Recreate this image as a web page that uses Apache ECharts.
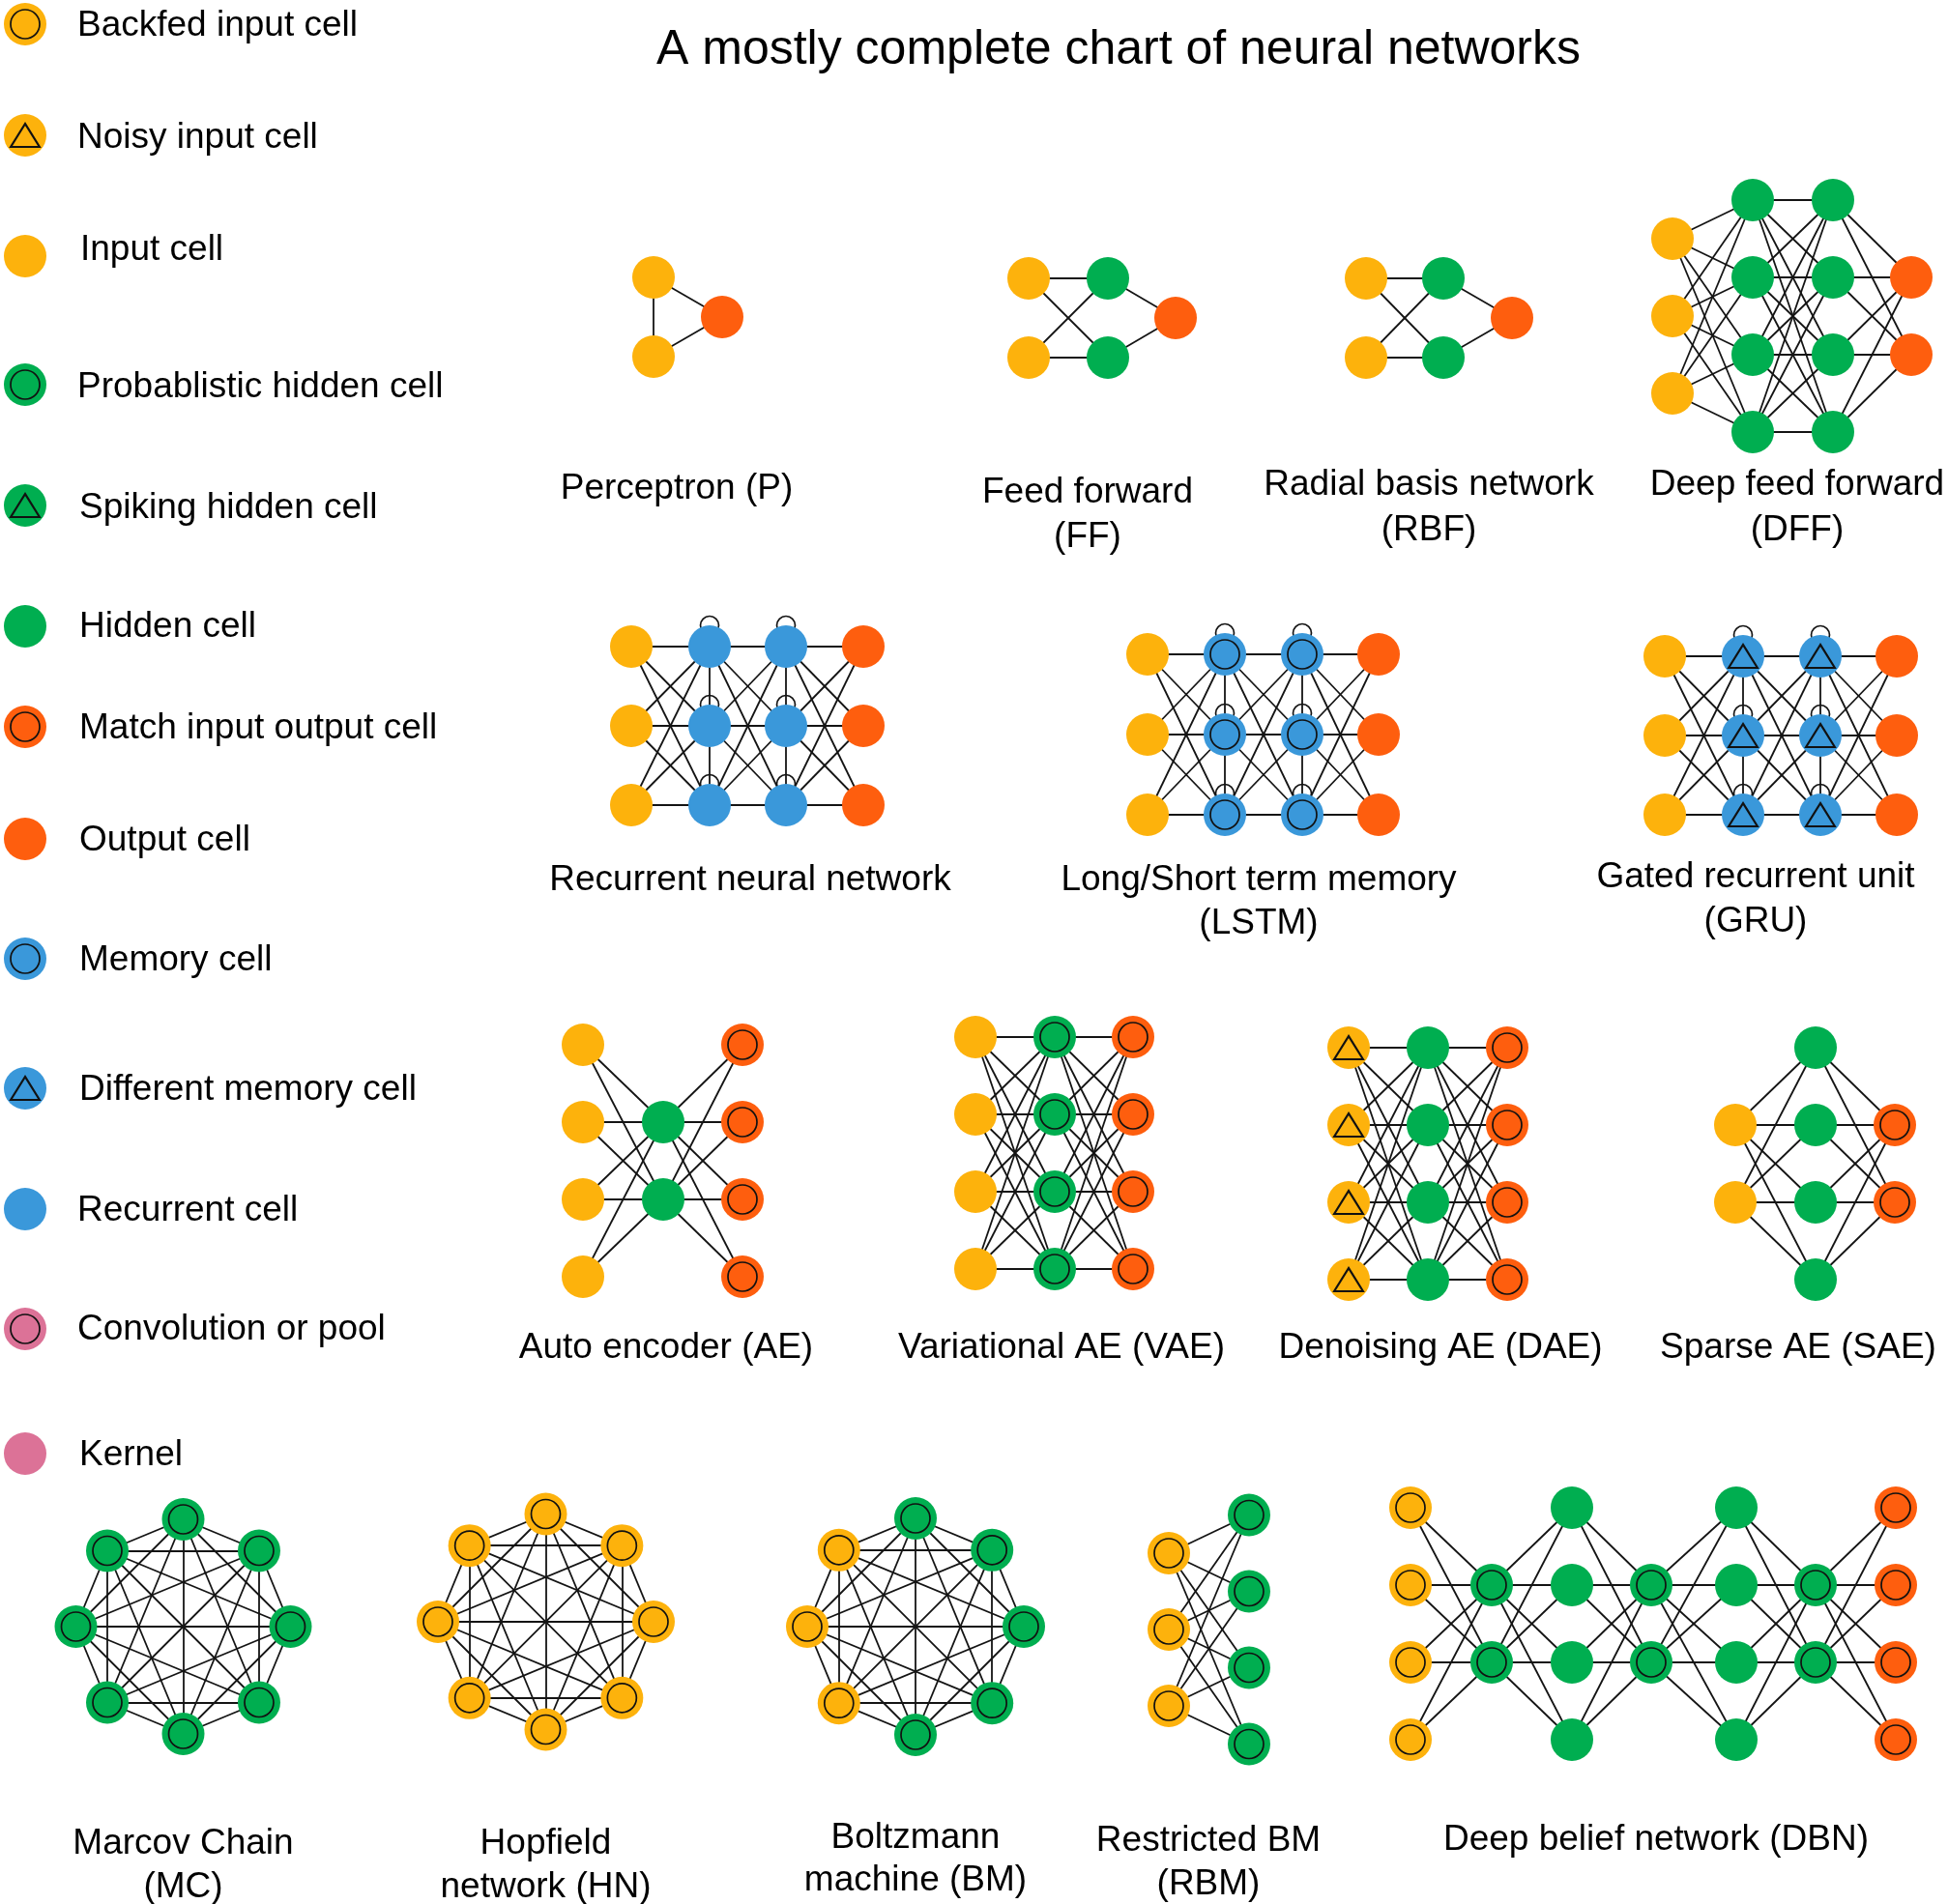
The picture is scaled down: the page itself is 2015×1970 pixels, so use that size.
<!DOCTYPE html>
<html><head><meta charset="utf-8">
<script src="https://cdn.jsdelivr.net/npm/echarts@6/dist/echarts.min.js"></script>
<style>html,body{margin:0;padding:0;background:#fff}#chart{width:2015px;height:1970px}</style>
</head><body><div id="chart"></div>
<script>
// ================= DATA =================
const chartTitle = 'A mostly complete chart of neural networks';
const cellKeys  = ['backfed','noisy','input','prob','spiking','hidden','match','output','memory','diffmem','recurrent','conv','kernel'];
const cellNames = ['Backfed input cell','Noisy input cell','Input cell','Probablistic hidden cell','Spiking hidden cell','Hidden cell','Match input output cell','Output cell','Memory cell','Different memory cell','Recurrent cell','Convolution or pool','Kernel'];

// layered networks: [cell type, number of cells] per column
const layersP    = [['input',2],['output',1]];
const layersFF   = [['input',2],['hidden',2],['output',1]];
const layersRBF  = [['input',2],['hidden',2],['output',1]];
const layersDFF  = [['input',3],['hidden',4],['hidden',4],['output',2]];
const layersRNN  = [['input',3],['recurrent',3],['recurrent',3],['output',3]];
const layersLSTM = [['input',3],['memory',3],['memory',3],['output',3]];
const layersGRU  = [['input',3],['diffmem',3],['diffmem',3],['output',3]];
const layersAE   = [['input',4],['hidden',2],['match',4]];
const layersVAE  = [['input',4],['prob',4],['match',4]];
const layersDAE  = [['noisy',4],['hidden',4],['match',4]];
const layersSAE  = [['input',2],['hidden',4],['match',2]];
const layersRBM  = [['backfed',3],['prob',4]];
const layersDBN  = [['backfed',4],['prob',2],['hidden',4],['prob',2],['hidden',4],['prob',2],['match',4]];
// fully connected rings (clockwise from top)
const ringMC = ['prob','prob','prob','prob','prob','prob','prob','prob'];
const ringHN = ['backfed','backfed','backfed','backfed','backfed','backfed','backfed','backfed'];
const ringBM = ['prob','prob','prob','prob','prob','backfed','backfed','backfed'];
// columns whose cells are linked to each other / carry self loops
const innerLinksP = [0];
const innerLinksRec = [1,2];
const selfLoopsRec = [1,2];

// network labels
const labelP    = ['Perceptron (P)'];
const labelFF   = ['Feed forward','(FF)'];
const labelRBF  = ['Radial basis network','(RBF)'];
const labelDFF  = ['Deep feed forward','(DFF)'];
const labelRNN  = ['Recurrent neural network'];
const labelLSTM = ['Long/Short term memory','(LSTM)'];
const labelGRU  = ['Gated recurrent unit','(GRU)'];
const labelAE   = ['Auto encoder (AE)'];
const labelVAE  = ['Variational AE (VAE)'];
const labelDAE  = ['Denoising AE (DAE)'];
const labelSAE  = ['Sparse AE (SAE)'];
const labelMC   = ['Marcov Chain','(MC)'];
const labelHN   = ['Hopfield','network (HN)'];
const labelBM   = ['Boltzmann','machine (BM)'];
const labelRBM  = ['Restricted BM','(RBM)'];
const labelDBN  = ['Deep belief network (DBN)'];

// ================= LAYOUT / STYLE =================
const FONT = "'Liberation Sans', Arial, Helvetica, sans-serif";
const COLORS = {backfed:'#FDB20C', noisy:'#FDB20C', input:'#FDB20C', prob:'#00AE50', spiking:'#00AE50', hidden:'#00AE50',
  match:'#FE5E0E', output:'#FE5E0E', memory:'#3A98DA', diffmem:'#3A98DA', recurrent:'#3A98DA', conv:'#DC7297', kernel:'#DC7297'};
const RING_TYPES = ['backfed','prob','match','memory','conv'];
const TRI_TYPES = ['noisy','spiking','diffmem'];
const NODE = 44, INNER = 30, LOOP = 19, EDGE = '#141414';
const TEXT_DY = 3;

const LAY = {
  P:   {cols:[676,747], cy:328, dy:82, lab:[700,503], gap:45},
  FF:  {cols:[1064,1146,1216], cy:329, dy:82, lab:[1125,507], gap:46},
  RBF: {cols:[1413,1493,1564], cy:329, dy:82, lab:[1478,499], gap:47},
  DFF: {cols:[1730,1813,1896,1977], cy:327, dy:80, lab:[1859,499], gap:47},
  RNN: {cols:[653,734,813,893], cy:751, dy:82, lab:[776,908], gap:45},
  LSTM:{cols:[1187,1267,1347,1426], cy:760, dy:83, lab:[1302,908], gap:45},
  GRU: {cols:[1722,1803,1883,1962], cy:761, dy:82, lab:[1816,905], gap:46},
  AE:  {cols:[603,686,768], cy:1201, dy:80, lab:[689,1392], gap:45},
  VAE: {cols:[1009,1091,1172], cy:1193, dy:80, lab:[1098,1392], gap:45},
  DAE: {cols:[1395,1477,1559], cy:1204, dy:80, lab:[1490,1392], gap:45},
  SAE: {cols:[1795,1878,1960], cy:1204, dy:80, lab:[1860,1392], gap:45},
  RBM: {cols:[1209,1292], cy:1686, dy:79, lab:[1250,1902], gap:45},
  DBN: {cols:[1459,1543,1626,1708,1796,1878,1961], cy:1680, dy:80, lab:[1713,1901], gap:45},
  MC:  {cx:189.5, cy:1683, r:111, lab:[189.5,1905], gap:45},
  HN:  {cx:564.5, cy:1678, r:111.5, lab:[564.5,1905], gap:45},
  BM:  {cx:947, cy:1683, r:112, lab:[947,1899], gap:44}
};
const LEGEND_X = 26;
const LEGEND_Y = [25,140,265,398,523,648,752,868,992,1126,1251,1375,1504];
const LEGEND_TEXT_X  = [80,80,83,80,82,82,82,82,82,82,80,80,82];
const LEGEND_TEXT_DY = [0,1,-8,1,1,-1,0,0,0,0,0,-1,0];

// ================= BUILD =================
const nodes = {}; cellKeys.forEach(k => nodes[k] = []);
const edges = [], loops = [];
function addLayered(layers, lay, innerCols, loopCols) {
  const cols = layers.map(([type, n], c) => {
    const pts = [];
    for (let r = 0; r < n; r++) {
      const p = [lay.cols[c], lay.cy + (r - (n - 1) / 2) * lay.dy];
      pts.push(p); nodes[type].push(p);
    }
    return pts;
  });
  for (let c = 0; c + 1 < cols.length; c++)
    for (const a of cols[c]) for (const b of cols[c + 1]) edges.push([a, b]);
  (innerCols || []).forEach(c => { for (let r = 0; r + 1 < cols[c].length; r++) edges.push([cols[c][r], cols[c][r + 1]]); });
  (loopCols || []).forEach(c => cols[c].forEach(p => loops.push(p)));
}
function addRing(types, lay) {
  const pts = types.map((t, i) => {
    const a = (-90 + 360 * i / types.length) * Math.PI / 180;
    const p = [lay.cx + lay.r * Math.cos(a), lay.cy + lay.r * Math.sin(a)];
    nodes[t].push(p); return p;
  });
  for (let i = 0; i < pts.length; i++) for (let j = i + 1; j < pts.length; j++) edges.push([pts[i], pts[j]]);
}
addLayered(layersP, LAY.P, innerLinksP);
addLayered(layersFF, LAY.FF);
addLayered(layersRBF, LAY.RBF);
addLayered(layersDFF, LAY.DFF);
addLayered(layersRNN, LAY.RNN, innerLinksRec, selfLoopsRec);
addLayered(layersLSTM, LAY.LSTM, innerLinksRec, selfLoopsRec);
addLayered(layersGRU, LAY.GRU, innerLinksRec, selfLoopsRec);
addLayered(layersAE, LAY.AE);
addLayered(layersVAE, LAY.VAE);
addLayered(layersDAE, LAY.DAE);
addLayered(layersSAE, LAY.SAE);
addLayered(layersRBM, LAY.RBM);
addLayered(layersDBN, LAY.DBN);
addRing(ringMC, LAY.MC);
addRing(ringHN, LAY.HN);
addRing(ringBM, LAY.BM);

const legendData = cellKeys.map((k, i) => ({value:[LEGEND_X, LEGEND_Y[i]], name:cellNames[i],
  itemStyle:{color:COLORS[k], opacity:1},
  label:{distance:LEGEND_TEXT_X[i] - LEGEND_X - NODE/2, offset:[0, LEGEND_TEXT_DY[i] + 1.5]}}));
const ringPts = [], triPts = [];
cellKeys.forEach((k, i) => {
  if (RING_TYPES.includes(k)) { ringPts.push(...nodes[k]); ringPts.push([LEGEND_X, LEGEND_Y[i]]); }
  if (TRI_TYPES.includes(k)) { triPts.push(...nodes[k]); triPts.push([LEGEND_X, LEGEND_Y[i]]); }
});

const series = [];
series.push({type:'lines', coordinateSystem:'cartesian2d', z:1, silent:true,
  lineStyle:{color:EDGE, width:1.8, opacity:1, curveness:0},
  data: edges.map(e => ({coords:e}))});
series.push({type:'scatter', z:2, silent:true, symbol:'circle', symbolSize:LOOP, symbolOffset:[0, -NODE/2],
  itemStyle:{color:'rgba(0,0,0,0)', borderColor:EDGE, borderWidth:1.7, opacity:1}, data:loops});
cellKeys.forEach((k, i) => {
  series.push({type:'scatter', name:cellNames[i], z:3, silent:true, symbol:'circle', symbolSize:NODE,
    itemStyle:{color:COLORS[k], opacity:1}, data:nodes[k]});
});
series.push({type:'scatter', z:3, silent:true, symbol:'circle', symbolSize:NODE, data:legendData,
  itemStyle:{opacity:1},
  label:{show:true, position:'right', formatter:'{b}', color:'#000', opacity:1, fontSize:37, fontFamily:FONT}});
series.push({type:'scatter', z:4, silent:true, symbol:'circle', symbolSize:INNER,
  itemStyle:{color:'rgba(0,0,0,0)', borderColor:'#111', borderWidth:1.7, opacity:1}, data:ringPts});
series.push({type:'scatter', z:4, silent:true, symbol:'triangle', symbolSize:[30,24],
  itemStyle:{color:'rgba(0,0,0,0)', borderColor:'#111', borderWidth:2, opacity:1}, data:triPts});

const graphics = [{type:'text', x:1157, y:49 + TEXT_DY, style:{text:chartTitle, font:'50px ' + FONT, fill:'#000', align:'center', verticalAlign:'middle'}}];
[[labelP,LAY.P],[labelFF,LAY.FF],[labelRBF,LAY.RBF],[labelDFF,LAY.DFF],[labelRNN,LAY.RNN],[labelLSTM,LAY.LSTM],[labelGRU,LAY.GRU],
 [labelAE,LAY.AE],[labelVAE,LAY.VAE],[labelDAE,LAY.DAE],[labelSAE,LAY.SAE],[labelMC,LAY.MC],[labelHN,LAY.HN],[labelBM,LAY.BM],
 [labelRBM,LAY.RBM],[labelDBN,LAY.DBN]].forEach(([lines, lay]) => {
  lines.forEach((t, i) => graphics.push({type:'text', x:lay.lab[0], y:lay.lab[1] + i * lay.gap + TEXT_DY,
    style:{text:t, font:'37px ' + FONT, fill:'#000', align:'center', verticalAlign:'middle'}}));
});

const chart = echarts.init(document.getElementById('chart'));
chart.setOption({
  animation:false,
  backgroundColor:'#fff',
  grid:{left:0, right:0, top:0, bottom:0},
  xAxis:{type:'value', min:0, max:2015, show:false},
  yAxis:{type:'value', min:0, max:1970, inverse:true, show:false},
  series:series,
  graphic:graphics
});
</script></body></html>
